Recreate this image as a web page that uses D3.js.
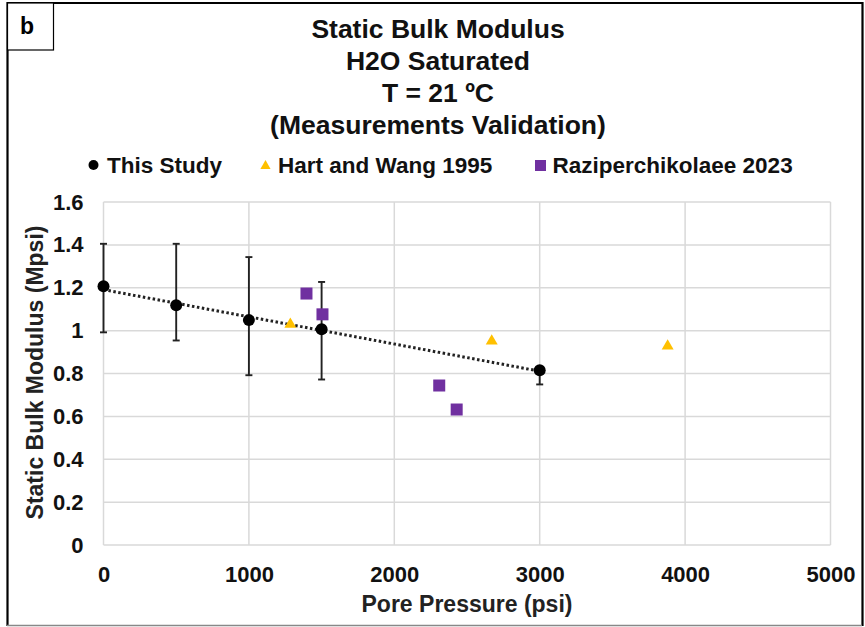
<!DOCTYPE html>
<html><head><meta charset="utf-8">
<script src="https://cdn.jsdelivr.net/npm/d3@7"></script>
<style>body{margin:0;background:#fff}svg{display:block;font-family:Arial,"Liberation Sans",sans-serif;font-weight:bold}</style>
</head><body>
<script>
const titleLines = ["Static Bulk Modulus","H2O Saturated","T = 21 ºC","(Measurements Validation)"];
const studyX = [0, 500, 1000, 1500, 3000];
const studyY = [1.207, 1.118, 1.049, 1.006, 0.815];
const studyHi = [1.405, 1.405, 1.343, 1.227, 0.83];
const studyLo = [0.992, 0.954, 0.792, 0.772, 0.749];
const hartX = [1285, 2670, 3880];
const hartY = [1.029, 0.951, 0.928];
const raziX = [1396, 1506, 2309, 2429];
const raziY = [1.173, 1.076, 0.744, 0.632];
const xTicks = [0,1000,2000,3000,4000,5000];
const yTicks = [0,0.2,0.4,0.6,0.8,1,1.2,1.4,1.6];

const W=865,H=627;
const FF="Arial,'Liberation Sans',sans-serif";
const svg=d3.select("body").append("svg").attr("width",W).attr("height",H);
svg.append("rect").attr("x",0).attr("y",0).attr("width",W).attr("height",H).attr("fill","#fff");
// outer frame
svg.append("path").attr("d","M7.5,626 V3 H862.5 V626").attr("fill","none").attr("stroke","#000").attr("stroke-width",2.2);
svg.append("line").attr("x1",7).attr("x2",862).attr("y1",625.5).attr("y2",625.5).attr("stroke","#888").attr("stroke-width",1.5);
// panel label box
svg.append("rect").attr("x",7.5).attr("y",3).attr("width",46).attr("height",47).attr("fill","#fff").attr("stroke","#000").attr("stroke-width",1.2);
svg.append("text").attr("x",27).attr("y",34).attr("text-anchor","middle").attr("font-size",23).text("b");

const x=d3.scaleLinear().domain([0,5000]).range([103.5,830.5]);
const y=d3.scaleLinear().domain([0,1.6]).range([545,202]);

// title
titleLines.forEach((t,i)=>svg.append("text").attr("x",438).attr("y",38+i*32).attr("text-anchor","middle").attr("font-size",26.5).attr("fill","#111").text(t));

// grid
svg.append("g").selectAll("line").data(yTicks).join("line")
  .attr("x1",x(0)).attr("x2",x(5000)).attr("y1",d=>y(d)).attr("y2",d=>y(d)).attr("stroke","#d9d9d9").attr("stroke-width",1.5);
svg.append("g").selectAll("line").data(xTicks).join("line")
  .attr("y1",y(0)).attr("y2",y(1.6)).attr("x1",d=>x(d)).attr("x2",d=>x(d)).attr("stroke","#d9d9d9").attr("stroke-width",1.5);

// axes
const xa=svg.append("g").attr("transform",`translate(0,${y(0)})`).call(d3.axisBottom(x).tickValues(xTicks).tickSize(0).tickPadding(21).tickFormat(d3.format("d")));
xa.select(".domain").remove();
xa.selectAll("text").attr("font-size",22).attr("font-family",FF).attr("font-weight","bold").attr("fill","#111").attr("dy","0.71em");
const ya=svg.append("g").attr("transform",`translate(${x(0)},0)`).call(d3.axisLeft(y).tickValues(yTicks).tickSize(0).tickPadding(20).tickFormat(d=>d3.format("")(+d.toFixed(1))));
ya.select(".domain").remove();
ya.selectAll("text").attr("font-size",22).attr("font-family",FF).attr("font-weight","bold").attr("fill","#111");

// axis titles
svg.append("text").attr("x",467).attr("y",612).attr("text-anchor","middle").attr("font-size",23).attr("fill","#222").text("Pore Pressure (psi)");
svg.append("text").attr("transform",`translate(42.5,372.5) rotate(-90)`).attr("text-anchor","middle").attr("font-size",23).attr("fill","#222").text("Static Bulk Modulus (Mpsi)");

// trendline (least squares)
const mx=d3.mean(studyX), my=d3.mean(studyY);
const slope=d3.sum(studyX.map((v,i)=>(v-mx)*(studyY[i]-my)))/d3.sum(studyX.map(v=>(v-mx)**2));
const icpt=my-slope*mx;
const xs=[0,3000];
svg.append("line").attr("x1",x(xs[0])).attr("y1",y(icpt+slope*xs[0])).attr("x2",x(xs[1])).attr("y2",y(icpt+slope*xs[1]))
  .attr("stroke","#222").attr("stroke-width",3).attr("stroke-dasharray","2.5 2.5");

// error bars
const eb=svg.append("g").attr("stroke","#222").attr("stroke-width",1.9);
studyX.forEach((v,i)=>{
  eb.append("line").attr("x1",x(v)).attr("x2",x(v)).attr("y1",y(studyHi[i])).attr("y2",y(studyLo[i]));
  [studyHi[i],studyLo[i]].forEach(e=>eb.append("line").attr("x1",x(v)-3.5).attr("x2",x(v)+3.5).attr("y1",y(e)).attr("y2",y(e)));
});

// Hart triangles
const tri=d3.symbol().type(d3.symbolTriangle).size(62);
svg.append("g").selectAll("path").data(hartX).join("path").attr("d",tri)
  .attr("transform",(d,i)=>`translate(${x(d)},${y(hartY[i])})`).attr("fill","#FFC000");
// Razi squares
svg.append("g").selectAll("rect").data(raziX).join("rect")
  .attr("x",d=>x(d)-6).attr("y",(d,i)=>y(raziY[i])-6).attr("width",12).attr("height",12).attr("fill","#7030A0");
// study circles
svg.append("g").selectAll("circle").data(studyX).join("circle")
  .attr("cx",d=>x(d)).attr("cy",(d,i)=>y(studyY[i])).attr("r",6).attr("fill","#000");

// legend
const lg=svg.append("g");
lg.append("circle").attr("cx",93.5).attr("cy",165).attr("r",5).attr("fill","#000");
lg.append("text").attr("x",107).attr("y",173).attr("font-size",22.5).attr("fill","#111").text("This Study");
lg.append("path").attr("d",d3.symbol().type(d3.symbolTriangle).size(45)).attr("transform","translate(265.5,166)").attr("fill","#FFC000");
lg.append("text").attr("x",278).attr("y",173).attr("font-size",22.5).attr("fill","#111").text("Hart and Wang 1995");
lg.append("rect").attr("x",535).attr("y",160).attr("width",11).attr("height",11).attr("fill","#7030A0");
lg.append("text").attr("x",552.5).attr("y",173).attr("font-size",22.5).attr("fill","#111").text("Raziperchikolaee 2023");
</script>
</body></html>
